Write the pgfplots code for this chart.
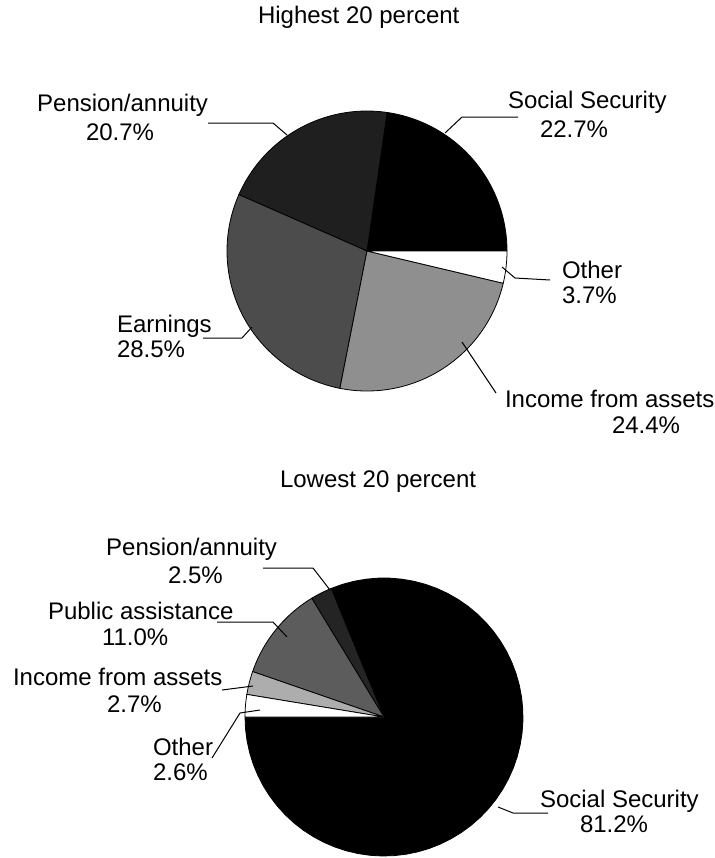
\documentclass[border=0pt]{standalone}
\usepackage{pgfplots}
\pgfplotsset{compat=1.18}
\usepackage{fontspec}
\setmainfont{Liberation Sans}
\tikzset{lab/.style={font=\fontsize{12pt}{13pt}\selectfont, inner sep=0pt, outer sep=0pt}}

\begin{document}
\fontsize{12pt}{13pt}\selectfont
\begin{tikzpicture}
\begin{axis}[
  at={(0,0)}, anchor=south west,
  scale only axis, width=357pt, height=429pt,
  xmin=0, xmax=714, ymin=0, ymax=858, y dir=reverse,
  hide axis, clip=false,
  wedge/.style={draw=black, line width=0.4pt, samples=60, variable=\t},
]
% ---------- Highest 20 percent (values in percent) ----------
% Social Security 22.7, Pension/annuity 20.7, Earnings 28.5, Income from assets 24.4, Other 3.7
\addplot[wedge, fill=black, domain=0:3.6*22.7]
  ({367+140*cos(t)},{251-140*sin(t)}) -- (367,251) -- cycle;
\addplot[wedge, fill=black!88, domain=3.6*22.7:3.6*(22.7+20.7)]
  ({367+140*cos(t)},{251-140*sin(t)}) -- (367,251) -- cycle;
\addplot[wedge, fill=black!70, domain=3.6*(22.7+20.7):3.6*(22.7+20.7+28.5)]
  ({367+140*cos(t)},{251-140*sin(t)}) -- (367,251) -- cycle;
\addplot[wedge, fill=black!44, domain=3.6*(22.7+20.7+28.5):3.6*(22.7+20.7+28.5+24.4)]
  ({367+140*cos(t)},{251-140*sin(t)}) -- (367,251) -- cycle;
\addplot[wedge, fill=white, domain=3.6*(22.7+20.7+28.5+24.4):3.6*(22.7+20.7+28.5+24.4+3.7)]
  ({367+140*cos(t)},{251-140*sin(t)}) -- (367,251) -- cycle;

% ---------- Lowest 20 percent ----------
% Social Security 81.2, Pension/annuity 2.5, Public assistance 11.0, Income from assets 2.7, Other 2.6
\addplot[wedge, fill=black, domain=180:180+3.6*81.2]
  ({384+139*cos(t)},{717-139*sin(t)}) -- (384,717) -- cycle;
\addplot[wedge, fill=black!86, domain=180+3.6*81.2:180+3.6*(81.2+2.5)]
  ({384+139*cos(t)},{717-139*sin(t)}) -- (384,717) -- cycle;
\addplot[wedge, fill=black!64, domain=180+3.6*(81.2+2.5):180+3.6*(81.2+2.5+11.0)]
  ({384+139*cos(t)},{717-139*sin(t)}) -- (384,717) -- cycle;
\addplot[wedge, fill=black!32, domain=180+3.6*(81.2+2.5+11.0):180+3.6*(81.2+2.5+11.0+2.7)]
  ({384+139*cos(t)},{717-139*sin(t)}) -- (384,717) -- cycle;
\addplot[wedge, fill=white, domain=180+3.6*(81.2+2.5+11.0+2.7):180+3.6*(81.2+2.5+11.0+2.7+2.6)]
  ({384+139*cos(t)},{717-139*sin(t)}) -- (384,717) -- cycle;

% ---------- titles ----------
\node[lab, anchor=base west] at (258,23) {Highest 20 percent};
\node[lab, anchor=base west] at (280,487) {Lowest 20 percent};

% ---------- labels, top ----------
\node[lab, anchor=base east] at (208,111) {Pension/annuity};
\node[lab, anchor=base west] at (86,140) {20.7\%};
\node[lab, anchor=base west] at (508,108) {Social Security};
\node[lab, anchor=base west] at (540,137) {22.7\%};
\node[lab, anchor=base west] at (562,278) {Other};
\node[lab, anchor=base west] at (562,303) {3.7\%};
\node[lab, anchor=base west] at (117,332) {Earnings};
\node[lab, anchor=base west] at (117,357) {28.5\%};
\node[lab, anchor=base west] at (505,407) {Income from assets};
\node[lab, anchor=base west] at (612,433) {24.4\%};

% ---------- labels, bottom ----------
\node[lab, anchor=base east] at (277,555) {Pension/annuity};
\node[lab, anchor=base west] at (168,583) {2.5\%};
\node[lab, anchor=base west] at (48,619) {Public assistance};
\node[lab, anchor=base west] at (102,645) {11.0\%};
\node[lab, anchor=base west] at (13,685) {Income from assets};
\node[lab, anchor=base west] at (107,712) {2.7\%};
\node[lab, anchor=base west] at (153,755) {Other};
\node[lab, anchor=base west] at (153,780) {2.6\%};
\node[lab, anchor=base west] at (540,807) {Social Security};
\node[lab, anchor=base west] at (580,832) {81.2\%};

% ---------- leader lines ----------
\draw[line width=0.5pt] (208,123) -- (273,123) -- (287,135);
\draw[line width=0.5pt] (518,117) -- (462,117) -- (445,133);
\draw[line width=0.5pt] (502,267) -- (515,278) -- (550,280);
\draw[line width=0.5pt] (462,342) -- (496,393);
\draw[line width=0.5pt] (203,338) -- (242,338) -- (252,327);
\draw[line width=0.5pt] (263,568) -- (313,568) -- (330,590);
\draw[line width=0.5pt] (217,622) -- (273,622) -- (287,637);
\draw[line width=0.5pt] (222,690) -- (253,686);
\draw[line width=0.5pt] (212,758) -- (240,713) -- (260,710);
\draw[line width=0.5pt] (498,807) -- (513,813) -- (548,813);
\end{axis}
\pgfresetboundingbox
\path (0,0) rectangle (357pt,429pt);
\end{tikzpicture}
\end{document}
